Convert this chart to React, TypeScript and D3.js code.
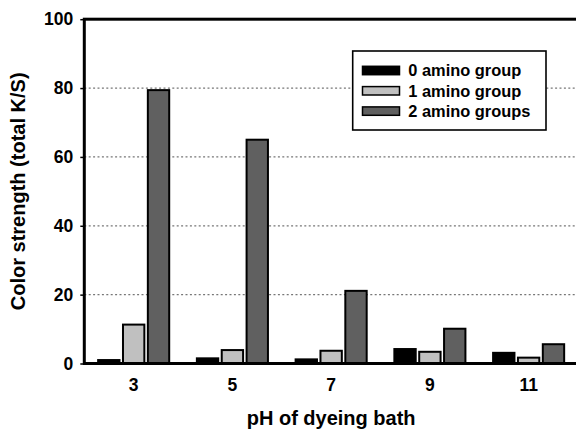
import React, { useEffect, useRef } from "react";
import * as d3 from "d3";

const categories = ["3", "5", "7", "9", "11"];
const seriesNames = ["0 amino group", "1 amino group", "2 amino groups"];
const amino0 = [1.0, 1.5, 1.2, 4.2, 3.1];
const amino1 = [11.3, 3.9, 3.7, 3.4, 1.7];
const amino2 = [79.4, 65.0, 21.1, 10.1, 5.6];
const seriesColors = ["#000000", "#c0c0c0", "#606060"];
const yTicks = [0, 20, 40, 60, 80, 100];
const gridTicks = [20, 40, 60, 80];

const W = 576;
const H = 431;
const FONT = "'Liberation Sans', Arial, Helvetica, sans-serif";

export default function App() {
  const ref = useRef<SVGSVGElement>(null);

  useEffect(() => {
    const svg = d3.select(ref.current);
    svg.selectAll("*").remove();

    const left = 84.3;
    const right = 578;
    const top = 19.2;
    const bottom = 363.5;

    const y = d3.scaleLinear().domain([0, 100]).range([bottom, top]);
    const x0 = d3
      .scaleBand<string>()
      .domain(categories)
      .range([left, right])
      .paddingInner(0.26)
      .paddingOuter(0.13);
    const x1 = d3
      .scaleBand<string>()
      .domain(seriesNames)
      .range([0, x0.bandwidth()])
      .paddingInner(0.06);

    const series = [amino0, amino1, amino2];

    // gridlines
    svg
      .append("g")
      .selectAll("line")
      .data(gridTicks)
      .join("line")
      .attr("x1", left)
      .attr("x2", right)
      .attr("y1", (d) => y(d))
      .attr("y2", (d) => y(d))
      .attr("stroke", "#777")
      .attr("stroke-width", 1.2)
      .attr("stroke-dasharray", "2,2.4");

    // bars
    const groups = svg
      .append("g")
      .selectAll("g")
      .data(categories)
      .join("g")
      .attr("transform", (c) => `translate(${x0(c)},0)`);

    groups
      .selectAll("rect")
      .data((c, i) =>
        seriesNames.map((s, k) => ({ s, k, v: series[k][i] }))
      )
      .join("rect")
      .attr("x", (d) => (x1(d.s) as number) + 1)
      .attr("width", x1.bandwidth() - 2)
      .attr("y", (d) => y(d.v))
      .attr("height", (d) => y(0) - y(d.v))
      .attr("fill", (d) => seriesColors[d.k])
      .attr("stroke", "#000")
      .attr("stroke-width", 2);

    // frame
    svg
      .append("rect")
      .attr("x", left)
      .attr("y", top)
      .attr("width", 700)
      .attr("height", bottom - top)
      .attr("fill", "none")
      .attr("stroke", "#000")
      .attr("stroke-width", 3);

    // y axis
    const yAxis = svg
      .append("g")
      .attr("transform", `translate(${left},0)`)
      .call(
        d3
          .axisLeft(y)
          .tickValues(yTicks)
          .tickSize(4)
          .tickPadding(7)
          .tickFormat((d) => String(d))
      );
    yAxis.select(".domain").remove();
    yAxis.selectAll(".tick line").attr("stroke", "#000").attr("stroke-width", 1.5);
    yAxis
      .selectAll(".tick text")
      .attr("font-family", FONT)
      .attr("font-weight", "bold")
      .attr("font-size", 17.5)
      .attr("fill", "#000");

    // x axis
    const xAxis = svg
      .append("g")
      .attr("transform", `translate(0,${bottom})`)
      .call(d3.axisBottom(x0).tickSize(0).tickPadding(15));
    xAxis.select(".domain").remove();
    xAxis
      .selectAll(".tick text")
      .attr("font-family", FONT)
      .attr("font-weight", "bold")
      .attr("font-size", 17.5)
      .attr("fill", "#000");

    // axis titles
    svg
      .append("text")
      .attr("x", (left + right) / 2)
      .attr("y", 425)
      .attr("text-anchor", "middle")
      .attr("font-family", FONT)
      .attr("font-weight", "bold")
      .attr("font-size", 20)
      .text("pH of dyeing bath");

    svg
      .append("text")
      .attr("transform", `translate(25,${(top + bottom) / 2}) rotate(-90)`)
      .attr("text-anchor", "middle")
      .attr("font-family", FONT)
      .attr("font-weight", "bold")
      .attr("font-size", 20)
      .text("Color strength (total K/S)");

    // legend
    const lg = svg.append("g");
    lg.append("rect")
      .attr("x", 352.7)
      .attr("y", 51)
      .attr("width", 193.3)
      .attr("height", 79)
      .attr("fill", "#fff")
      .attr("stroke", "#000")
      .attr("stroke-width", 1.6);
    const rows = lg
      .selectAll("g.row")
      .data(seriesNames)
      .join("g")
      .attr("class", "row")
      .attr("transform", (_, i) => `translate(0,${70.5 + i * 20.3})`);
    rows
      .append("rect")
      .attr("x", 362.5)
      .attr("y", -4.2)
      .attr("width", 37)
      .attr("height", 8.4)
      .attr("fill", (_, i) => seriesColors[i])
      .attr("stroke", "#000")
      .attr("stroke-width", 1.5);
    rows
      .append("text")
      .attr("x", 408.3)
      .attr("y", 5.8)
      .attr("font-family", FONT)
      .attr("font-weight", "bold")
      .attr("font-size", 16.4)
      .text((d) => d);
  }, []);

  return (
    <svg
      ref={ref}
      width={W}
      height={H}
      style={{ position: "absolute", left: 0, top: 0, background: "#fff" }}
    />
  );
}
